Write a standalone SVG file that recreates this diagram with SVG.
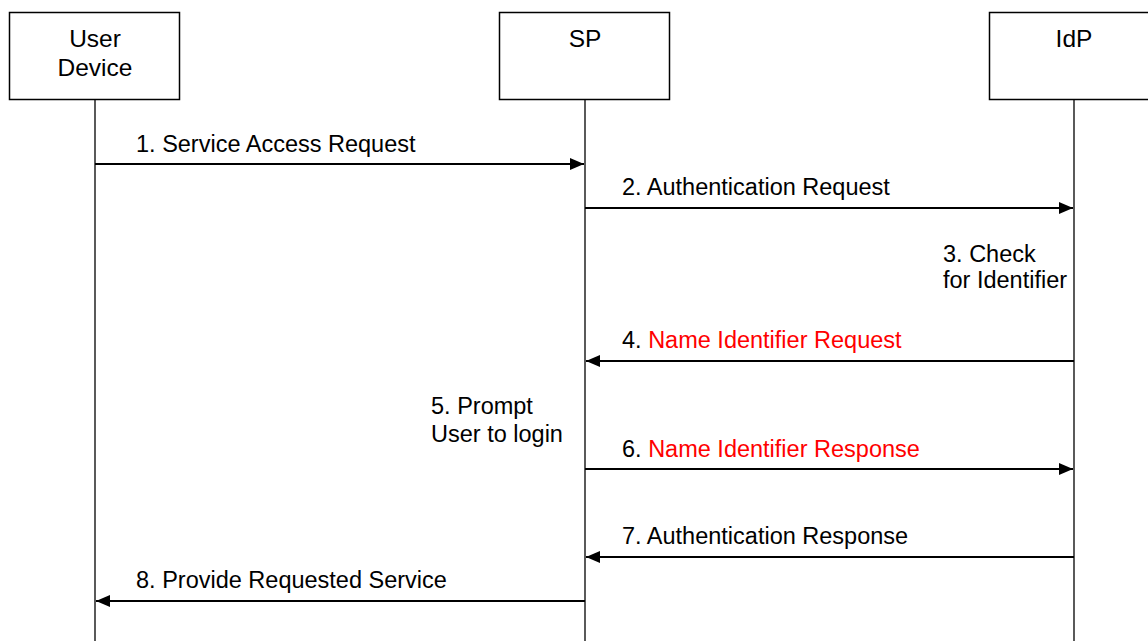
<svg xmlns="http://www.w3.org/2000/svg" width="1148" height="641" viewBox="0 0 1148 641">
  <style>
    .box { fill: #fff; stroke: #000; stroke-width: 1.5; }
    .life { stroke: #000; stroke-width: 1.3; fill: none; }
    .msg { stroke: #000; stroke-width: 2; fill: none; }
    text { font-family: "Liberation Sans", Arial, sans-serif; font-size: 23.5px; fill: #000; }
    .name { font-size: 24.5px; text-anchor: middle; }
    .red { fill: #ff0000; }
  </style>
  <defs>
    <marker id="head" viewBox="0 0 14 12" refX="14" refY="6" markerWidth="14" markerHeight="12" markerUnits="userSpaceOnUse" orient="auto">
      <path d="M0,0 L14,6 L0,12 Z" fill="#000"/>
    </marker>
  </defs>

  <!-- participants -->
  <g id="user-device">
    <rect class="box" x="9.5" y="12.5" width="170" height="87"/>
    <text class="name" x="95" y="47">User</text>
    <text class="name" x="95" y="76">Device</text>
  </g>
  <g id="sp">
    <rect class="box" x="499.5" y="12.5" width="170" height="87"/>
    <text class="name" x="585" y="47">SP</text>
  </g>
  <g id="idp">
    <rect class="box" x="989.5" y="12.5" width="170" height="87"/>
    <text class="name" x="1074" y="47">IdP</text>
  </g>

  <!-- lifelines and messages -->
  <g id="connectors">
    <line class="life" x1="95" y1="100" x2="95" y2="641"/>
    <line class="life" x1="585" y1="100" x2="585" y2="641"/>
    <line class="life" x1="1074" y1="100" x2="1074" y2="641"/>

    <line class="msg" x1="95" y1="164" x2="584" y2="164" marker-end="url(#head)"/>
    <line class="msg" x1="585" y1="208" x2="1073" y2="208" marker-end="url(#head)"/>
    <line class="msg" x1="1074" y1="361" x2="586" y2="361" marker-end="url(#head)"/>
    <line class="msg" x1="585" y1="469" x2="1073" y2="469" marker-end="url(#head)"/>
    <line class="msg" x1="1074" y1="557" x2="586" y2="557" marker-end="url(#head)"/>
    <line class="msg" x1="585" y1="601" x2="96" y2="601" marker-end="url(#head)"/>
  </g>

  <!-- message labels -->
  <g id="labels">
    <text x="136" y="152">1. Service Access Request</text>
    <text x="622" y="195">2. Authentication Request</text>
    <text x="943" y="262">3. Check</text>
    <text x="943" y="288">for Identifier</text>
    <text x="622" y="348">4. <tspan class="red">Name Identifier Request</tspan></text>
    <text x="431" y="414">5. Prompt</text>
    <text x="431" y="442">User to login</text>
    <text x="622" y="457">6. <tspan class="red">Name Identifier Response</tspan></text>
    <text x="622" y="544">7. Authentication Response</text>
    <text x="136" y="588">8. Provide Requested Service</text>
  </g>
</svg>
